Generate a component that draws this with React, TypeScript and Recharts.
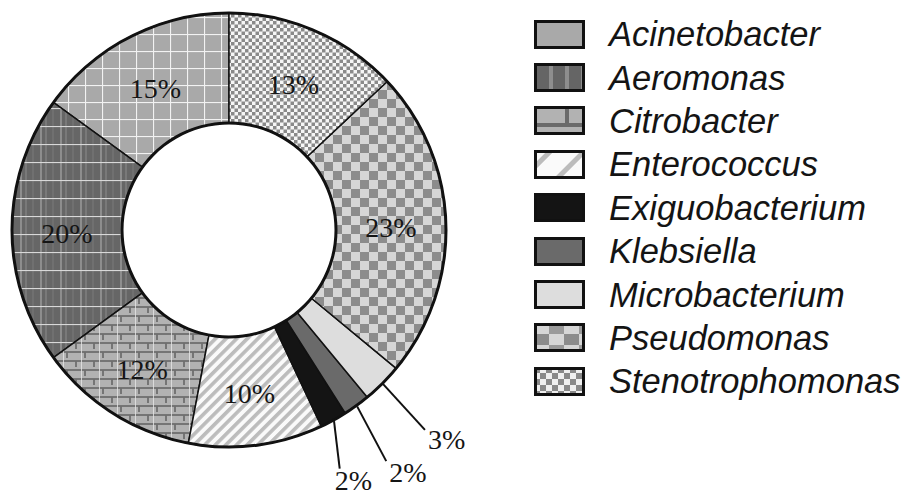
import React from 'react';
import { PieChart, Pie, Cell } from 'recharts';

// legend order (alphabetical), drawn counter-clockwise from 12 o'clock
const genera = [
  'Acinetobacter',
  'Aeromonas',
  'Citrobacter',
  'Enterococcus',
  'Exiguobacterium',
  'Klebsiella',
  'Microbacterium',
  'Pseudomonas',
  'Stenotrophomonas',
];
const shares = [15, 20, 12, 10, 2, 2, 3, 23, 13];
const patternIds = ['acin', 'aero', 'citro', 'entero', 'exig', 'kleb', 'micro', 'pseudo', 'steno'];

const data = genera.map((name, i) => ({ name, value: shares[i], key: patternIds[i] }));
const ring = [{ name: 'ring', value: 1 }];

const CX = 229;
const CY = 230;
const INNER = 107;
const OUTER = 217;
const RADIAN = Math.PI / 180;

const pctFont = "'Liberation Serif', 'Times New Roman', serif";

// leader lines for the thin slices: angular tilt (deg), length, text offsets
const leaders: Record<string, { tilt: number; len: number; dx: number; dy: number }> = {
  Exiguobacterium: { tilt: -22, len: 48, dx: -5, dy: 21 },
  Klebsiella: { tilt: -8, len: 62, dx: 3, dy: 21 },
  Microbacterium: { tilt: -2.6, len: 62, dx: 3, dy: 19 },
};

const polar = (cx: number, cy: number, r: number, angle: number) => ({
  x: cx + r * Math.cos(-angle * RADIAN),
  y: cy + r * Math.sin(-angle * RADIAN),
});

const renderLabel = (props: any) => {
  const { cx, cy, midAngle, innerRadius, outerRadius, name, value } = props;
  const lead = leaders[name];
  if (!lead) {
    const p = polar(cx, cy, (innerRadius + outerRadius) / 2, midAngle);
    return (
      <text
        x={p.x}
        y={p.y + 3}
        textAnchor="middle"
        dominantBaseline="central"
        fontFamily={pctFont}
        fontSize={28}
        fill="#151515"
      >
        {value}%
      </text>
    );
  }
  const start = polar(cx, cy, outerRadius + 1, midAngle);
  const dir = (midAngle + lead.tilt) * RADIAN;
  const end = { x: start.x + lead.len * Math.cos(-dir), y: start.y + lead.len * Math.sin(-dir) };
  return (
    <g>
      <line x1={start.x} y1={start.y} x2={end.x} y2={end.y} stroke="#111" strokeWidth={2} />
      <text x={end.x + lead.dx} y={end.y + lead.dy} fontFamily={pctFont} fontSize={28} fill="#151515">
        {value}%
      </text>
    </g>
  );
};

const Patterns = () => (
  <svg width={0} height={0} style={{ position: 'absolute' }}>
    <defs>
      <pattern id="acin" width={17} height={17} patternUnits="userSpaceOnUse">
        <rect width={17} height={17} fill="#a9a9a9" />
        <line x1={0.5} y1={0} x2={0.5} y2={17} stroke="#f2f2f2" strokeWidth={1.2} />
        <line x1={0} y1={0.5} x2={17} y2={0.5} stroke="#f2f2f2" strokeWidth={1.2} />
      </pattern>
      <pattern id="aero" width={20} height={18} patternUnits="userSpaceOnUse">
        <rect width={20} height={18} fill="#666" />
        <line x1={1} y1={0} x2={1} y2={18} stroke="#a8a8a8" strokeWidth={1.2} />
        <line x1={6} y1={0} x2={6} y2={18} stroke="#858585" strokeWidth={1.2} />
        <line x1={13} y1={0} x2={13} y2={18} stroke="#7a7a7a" strokeWidth={1} />
        <line x1={0} y1={0.5} x2={20} y2={0.5} stroke="#d8d8d8" strokeWidth={1.2} />
      </pattern>
      <pattern id="citro" width={18} height={18} patternUnits="userSpaceOnUse">
        <rect width={18} height={18} fill="#b2b2b2" />
        <line x1={0} y1={1} x2={18} y2={1} stroke="#6e6e6e" strokeWidth={1.8} />
        <line x1={0} y1={10} x2={18} y2={10} stroke="#6e6e6e" strokeWidth={1.8} />
        <line x1={4} y1={1} x2={4} y2={7} stroke="#6e6e6e" strokeWidth={1.8} />
        <line x1={13} y1={10} x2={13} y2={16} stroke="#6e6e6e" strokeWidth={1.8} />
        <line x1={9.5} y1={0} x2={9.5} y2={18} stroke="#e6e6e6" strokeWidth={0.8} />
      </pattern>
      <pattern id="entero" width={7.5} height={7.5} patternUnits="userSpaceOnUse" patternTransform="rotate(45)">
        <rect width={7.5} height={7.5} fill="#fafafa" />
        <rect width={3.6} height={7.5} fill="#bcbcbc" />
      </pattern>
      <pattern id="exig" width={10} height={10} patternUnits="userSpaceOnUse">
        <rect width={10} height={10} fill="#141414" />
      </pattern>
      <pattern id="kleb" width={10} height={10} patternUnits="userSpaceOnUse">
        <rect width={10} height={10} fill="#6a6a6a" />
      </pattern>
      <pattern id="micro" width={10} height={10} patternUnits="userSpaceOnUse">
        <rect width={10} height={10} fill="#dddddd" />
      </pattern>
      <pattern id="pseudo" width={18} height={18} patternUnits="userSpaceOnUse">
        <rect width={18} height={18} fill="#d6d6d6" />
        <rect x={0} y={0} width={9} height={9} fill="#8c8c8c" />
        <rect x={9} y={9} width={9} height={9} fill="#8c8c8c" />
      </pattern>
      <pattern id="steno" width={7} height={7} patternUnits="userSpaceOnUse">
        <rect width={7} height={7} fill="#f6f6f6" />
        <rect x={0} y={0} width={3.5} height={3.5} fill="#8a8a8a" />
        <rect x={3.5} y={3.5} width={3.5} height={3.5} fill="#8a8a8a" />
      </pattern>

      {/* larger versions for the legend swatches */}
      <pattern id="lg-acin" width={50} height={30} patternUnits="userSpaceOnUse">
        <rect width={50} height={30} fill="#a9a9a9" />
      </pattern>
      <pattern id="lg-aero" width={16} height={30} patternUnits="userSpaceOnUse" x={4}>
        <rect width={16} height={30} fill="#656565" />
        <rect x={11} width={4} height={30} fill="#8e8e8e" />
      </pattern>
      <pattern id="lg-citro" width={50} height={30} patternUnits="userSpaceOnUse">
        <rect width={50} height={30} fill="#b2b2b2" />
        <rect x={0} y={17} width={50} height={4} fill="#6a6a6a" />
        <rect x={31} y={0} width={4} height={17} fill="#6a6a6a" />
      </pattern>
      <pattern id="lg-entero" width={24} height={24} patternUnits="userSpaceOnUse" patternTransform="rotate(45)">
        <rect width={24} height={24} fill="#fafafa" />
        <rect x={10} width={5} height={24} fill="#bcbcbc" />
      </pattern>
      <pattern id="lg-pseudo" width={30} height={22} patternUnits="userSpaceOnUse">
        <rect width={30} height={22} fill="#d6d6d6" />
        <rect x={15} y={0} width={15} height={11} fill="#9a9a9a" />
        <rect x={0} y={11} width={15} height={11} fill="#8c8c8c" />
      </pattern>
      <pattern id="lg-steno" width={12} height={12} patternUnits="userSpaceOnUse">
        <rect width={12} height={12} fill="#f0f0f0" />
        <rect x={0} y={0} width={6} height={6} fill="#8a8a8a" />
        <rect x={6} y={6} width={6} height={6} fill="#8a8a8a" />
      </pattern>
    </defs>
  </svg>
);

const legendFill: Record<string, string> = {
  acin: 'url(#lg-acin)',
  aero: 'url(#lg-aero)',
  citro: 'url(#lg-citro)',
  entero: 'url(#lg-entero)',
  exig: '#141414',
  kleb: '#6a6a6a',
  micro: '#dddddd',
  pseudo: 'url(#lg-pseudo)',
  steno: 'url(#lg-steno)',
};

const LegendBox = () => (
  <div style={{ position: 'absolute', left: 534, top: 13 }}>
    {data.map((d) => (
      <div key={d.name} style={{ display: 'flex', alignItems: 'center', height: 43.4 }}>
        <svg width={51} height={30}>
          <rect x={1.5} y={1.5} width={48} height={26} fill={legendFill[d.key]} stroke="#111" strokeWidth={3} />
        </svg>
        <span
          style={{
            marginLeft: 24,
            fontFamily: "'Liberation Sans', Arial, sans-serif",
            fontStyle: 'italic',
            fontSize: 34.5,
            color: '#141414',
            lineHeight: '43px',
          }}
        >
          {d.name}
        </span>
      </div>
    ))}
  </div>
);

export default function App() {
  return (
    <div style={{ position: 'relative', width: 908, height: 498, background: '#fff', overflow: 'hidden' }}>
      <style>{'body{margin:0}'}</style>
      <Patterns />
      <PieChart width={908} height={498} margin={{ top: 0, right: 0, bottom: 0, left: 0 }}>
        <Pie
          data={data}
          dataKey="value"
          nameKey="name"
          cx={CX}
          cy={CY}
          innerRadius={INNER}
          outerRadius={OUTER}
          startAngle={90}
          endAngle={450}
          stroke="#111"
          strokeWidth={1.5}
          label={renderLabel}
          labelLine={false}
          isAnimationActive={false}
        >
          {data.map((d) => (
            <Cell key={d.name} fill={`url(#${d.key})`} />
          ))}
        </Pie>
        <Pie
          data={ring}
          dataKey="value"
          cx={CX}
          cy={CY}
          innerRadius={OUTER - 1.5}
          outerRadius={OUTER + 1.5}
          startAngle={90}
          endAngle={450}
          fill="#111"
          stroke="none"
          isAnimationActive={false}
        />
        <Pie
          data={ring}
          dataKey="value"
          cx={CX}
          cy={CY}
          innerRadius={INNER - 1.5}
          outerRadius={INNER + 1.5}
          startAngle={90}
          endAngle={450}
          fill="#111"
          stroke="none"
          isAnimationActive={false}
        />
      </PieChart>
      <LegendBox />
    </div>
  );
}
